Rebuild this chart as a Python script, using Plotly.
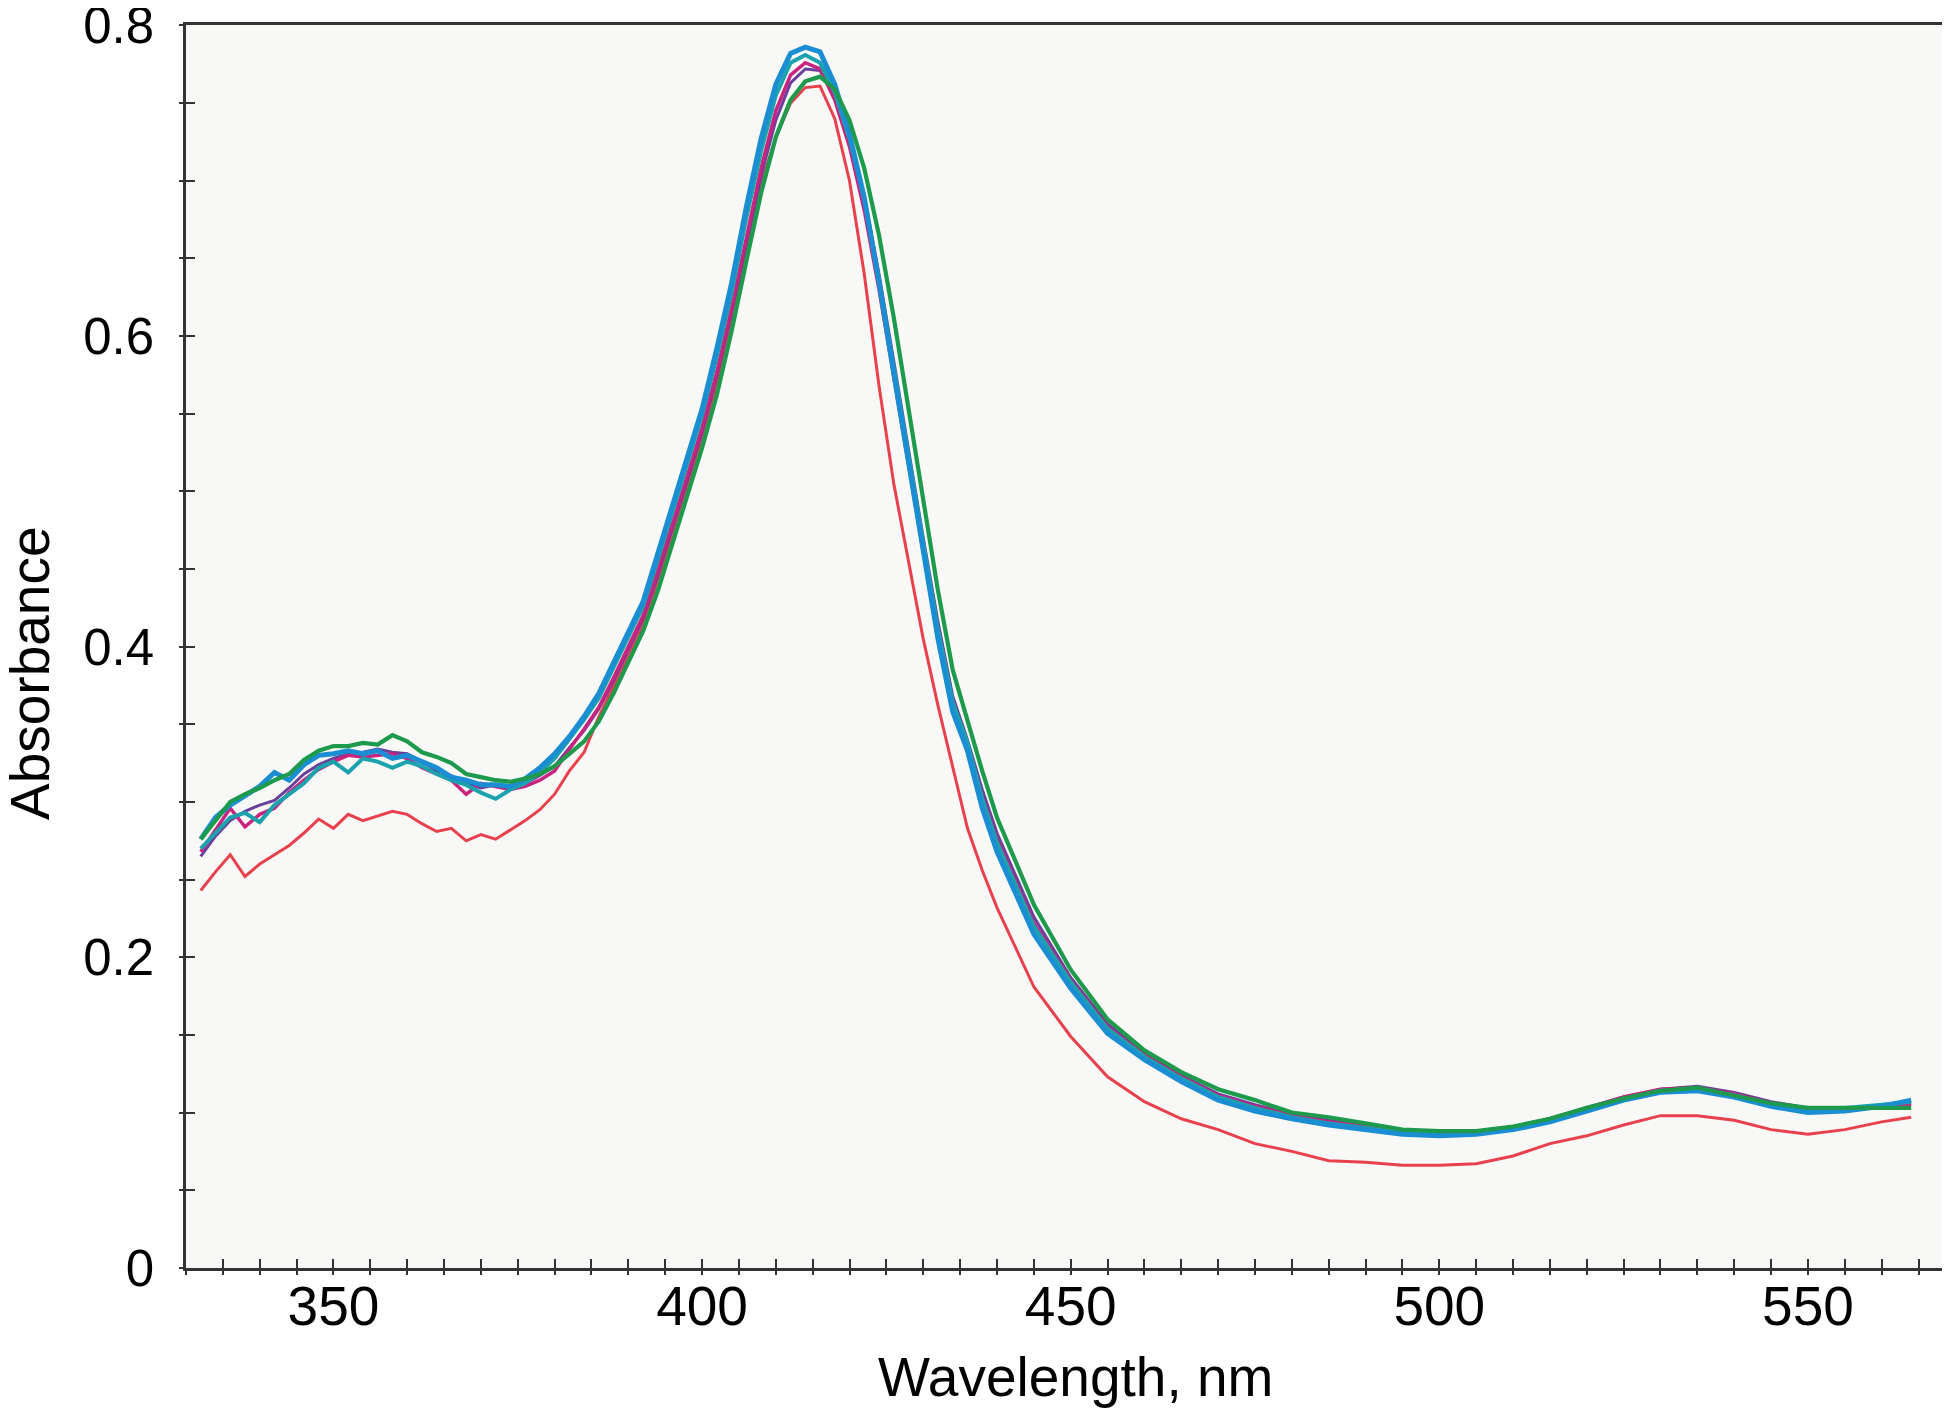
import plotly.graph_objects as go

wavelength = [332, 334, 336, 338, 340, 342, 344, 346, 348, 350, 352, 354, 356, 358, 360,
              362, 364, 366, 368, 370, 372, 374, 376, 378, 380,
              382, 384, 386, 388, 390, 392, 394, 396, 398, 400, 402, 404, 406, 408, 410,
              412, 414, 416, 418, 420, 422, 424, 426, 428, 430, 432, 434, 436, 438, 440,
              445, 450, 455, 460, 465, 470, 475, 480, 485, 490, 495, 500, 505, 510, 515,
              520, 525, 530, 535, 540, 545, 550, 555, 560, 564]

red = [0.243, 0.255, 0.266, 0.252, 0.260, 0.266, 0.272, 0.280, 0.289, 0.283, 0.292, 0.288, 0.291, 0.294, 0.292,
       0.286, 0.281, 0.283, 0.275, 0.279, 0.276, 0.282, 0.288, 0.295, 0.305,
       0.320, 0.332, 0.355, 0.374, 0.394, 0.414, 0.442, 0.471, 0.502, 0.533, 0.570, 0.611, 0.655, 0.698, 0.728,
       0.750, 0.760, 0.761, 0.740, 0.700, 0.640, 0.568, 0.505, 0.455, 0.405, 0.362, 0.322, 0.283, 0.256, 0.232,
       0.181, 0.149, 0.123, 0.107, 0.096, 0.089, 0.080, 0.075, 0.069, 0.068, 0.066, 0.066, 0.067, 0.072, 0.080,
       0.085, 0.092, 0.098, 0.098, 0.095, 0.089, 0.086, 0.089, 0.094, 0.097]

purple = [0.265, 0.278, 0.288, 0.294, 0.298, 0.301, 0.309, 0.318, 0.324, 0.328, 0.331, 0.332, 0.334, 0.332, 0.331,
          0.326, 0.320, 0.317, 0.312, 0.309, 0.311, 0.310, 0.312, 0.317, 0.323,
          0.335, 0.346, 0.360, 0.378, 0.398, 0.418, 0.446, 0.476, 0.507, 0.538, 0.574, 0.615, 0.660, 0.703, 0.739,
          0.763, 0.772, 0.771, 0.755, 0.728, 0.690, 0.640, 0.584, 0.526, 0.470, 0.416, 0.368, 0.340, 0.308, 0.280,
          0.226, 0.187, 0.157, 0.138, 0.124, 0.112, 0.105, 0.099, 0.095, 0.091, 0.088, 0.087, 0.088, 0.091, 0.096,
          0.103, 0.110, 0.115, 0.117, 0.113, 0.107, 0.103, 0.103, 0.104, 0.105]

magenta = [0.268, 0.282, 0.296, 0.284, 0.292, 0.296, 0.306, 0.314, 0.321, 0.326, 0.330, 0.329, 0.330, 0.331, 0.328,
           0.322, 0.318, 0.314, 0.305, 0.312, 0.310, 0.308, 0.310, 0.314, 0.320,
           0.334, 0.347, 0.361, 0.380, 0.400, 0.420, 0.449, 0.479, 0.510, 0.541, 0.577, 0.618, 0.664, 0.708, 0.745,
           0.768, 0.776, 0.772, 0.752, 0.722, 0.681, 0.630, 0.574, 0.516, 0.461, 0.405, 0.360, 0.335, 0.303, 0.276,
           0.222, 0.185, 0.155, 0.137, 0.123, 0.111, 0.104, 0.098, 0.094, 0.091, 0.088, 0.087, 0.088, 0.090, 0.096,
           0.103, 0.110, 0.115, 0.116, 0.112, 0.106, 0.102, 0.102, 0.104, 0.105]

teal = [0.270, 0.280, 0.290, 0.293, 0.287, 0.298, 0.305, 0.312, 0.322, 0.326, 0.319, 0.328, 0.326, 0.322, 0.326,
        0.323, 0.318, 0.314, 0.311, 0.306, 0.302, 0.308, 0.312, 0.319, 0.328,
        0.340, 0.353, 0.367, 0.387, 0.407, 0.426, 0.456, 0.487, 0.518, 0.549, 0.587, 0.628, 0.676, 0.719, 0.755,
        0.776, 0.781, 0.776, 0.757, 0.727, 0.688, 0.636, 0.580, 0.522, 0.467, 0.411, 0.364, 0.338, 0.302, 0.274,
        0.220, 0.184, 0.154, 0.136, 0.122, 0.110, 0.103, 0.097, 0.093, 0.090, 0.087, 0.086, 0.087, 0.090, 0.095,
        0.102, 0.109, 0.114, 0.115, 0.111, 0.105, 0.102, 0.103, 0.105, 0.107]

blue = [0.276, 0.290, 0.298, 0.304, 0.310, 0.319, 0.314, 0.324, 0.330, 0.331, 0.333, 0.331, 0.333, 0.328, 0.330,
        0.326, 0.322, 0.316, 0.314, 0.311, 0.311, 0.310, 0.315, 0.322, 0.331,
        0.342, 0.355, 0.370, 0.390, 0.410, 0.429, 0.460, 0.491, 0.522, 0.553, 0.592, 0.634, 0.683, 0.727, 0.762,
        0.782, 0.786, 0.783, 0.762, 0.730, 0.689, 0.635, 0.576, 0.518, 0.463, 0.405, 0.358, 0.333, 0.296, 0.268,
        0.215, 0.180, 0.151, 0.134, 0.120, 0.108, 0.101, 0.096, 0.092, 0.089, 0.086, 0.085, 0.086, 0.089, 0.094,
        0.101, 0.108, 0.113, 0.114, 0.110, 0.104, 0.100, 0.101, 0.104, 0.108]

green = [0.276, 0.288, 0.300, 0.305, 0.309, 0.314, 0.318, 0.327, 0.333, 0.336, 0.336, 0.338, 0.337, 0.343, 0.339,
         0.332, 0.329, 0.325, 0.318, 0.316, 0.314, 0.313, 0.315, 0.318, 0.323,
         0.331, 0.339, 0.352, 0.370, 0.390, 0.410, 0.436, 0.466, 0.497, 0.528, 0.562, 0.603, 0.648, 0.692, 0.728,
         0.752, 0.764, 0.767, 0.759, 0.739, 0.708, 0.665, 0.612, 0.552, 0.492, 0.436, 0.385, 0.352, 0.320, 0.290,
         0.234, 0.192, 0.160, 0.140, 0.126, 0.115, 0.108, 0.100, 0.097, 0.093, 0.089, 0.088, 0.088, 0.091, 0.096,
         0.103, 0.109, 0.114, 0.116, 0.111, 0.106, 0.103, 0.103, 0.103, 0.103]

x_ticks = [350, 400, 450, 500, 550]
y_ticks = [0, 0.2, 0.4, 0.6, 0.8]
y_tick_text = ["0", "0.2", "0.4", "0.6", "0.8"]

series = [
    ("red", red, "#e8414e", 3.0),
    ("purple", purple, "#6b3f9c", 3.0),
    ("magenta", magenta, "#c8247f", 3.5),
    ("teal", teal, "#1aa3ad", 4.0),
    ("blue", blue, "#1b8ed3", 5.0),
    ("green", green, "#1e9a4c", 4.2),
]

FONT = "Liberation Sans, Arial, Helvetica, sans-serif"
TICKC = "#333333"

fig = go.Figure()
for name, vals, color, w in series:
    fig.add_trace(go.Scatter(x=wavelength, y=vals, mode="lines", name=name,
                             line=dict(color=color, width=w, shape="linear")))

axis_line = dict(showline=True, linecolor=TICKC, linewidth=2.5, mirror=True,
                 showgrid=False, zeroline=False, automargin=False)

XR = [330, 569]
YR = [-0.0001, 0.8003]

fig.update_layout(
    width=1950, height=1414,
    margin=dict(l=178, r=10, t=17, b=154, autoexpand=False),
    paper_bgcolor="white",
    plot_bgcolor="#f8f8f6",
    showlegend=False,
    font=dict(family=FONT, size=55, color="black"),
    xaxis=dict(range=XR, tickvals=x_ticks, ticks="outside", ticklen=4,
               tickwidth=2, tickcolor=TICKC,
               minor=dict(dtick=5, tick0=330, ticks="outside", ticklen=4, tickwidth=2, tickcolor=TICKC),
               tickfont=dict(family=FONT, size=55), ticklabelstandoff=-16, **axis_line),
    yaxis=dict(range=YR, tickvals=y_ticks, ticktext=y_tick_text,
               ticks="outside", ticklen=4, tickwidth=2, tickcolor=TICKC,
               minor=dict(dtick=0.05, tick0=0, ticks="outside", ticklen=4, tickwidth=2, tickcolor=TICKC),
               tickfont=dict(family=FONT, size=51), ticklabelstandoff=15,
               ticklabeloverflow="allow", **axis_line),
    xaxis2=dict(range=XR, overlaying="x", anchor="y", side="bottom", automargin=False,
                showticklabels=False, ticks="inside", ticklen=9, tickwidth=2, tickcolor=TICKC,
                tick0=330, dtick=5, showgrid=False, zeroline=False, showline=False),
    yaxis2=dict(range=YR, overlaying="y", anchor="x", side="left", automargin=False,
                showticklabels=False, ticks="inside", ticklen=9, tickwidth=2, tickcolor=TICKC,
                tick0=0, dtick=0.05, showgrid=False, zeroline=False, showline=False),
)

# invisible trace to activate the overlay axes carrying the inward tick marks
fig.add_trace(go.Scatter(x=[330], y=[0], xaxis="x2", yaxis="y2", mode="markers",
                         marker=dict(opacity=0), hoverinfo="skip", showlegend=False))

fig.add_annotation(text="Wavelength, nm", xref="paper", yref="paper",
                   x=0.505, y=-0.0874, xanchor="center", yanchor="middle",
                   showarrow=False, font=dict(family=FONT, size=55, color="black"))
fig.add_annotation(text="Absorbance", xref="paper", yref="paper",
                   x=-0.0885, y=0.4787, xanchor="center", yanchor="middle", textangle=-90,
                   showarrow=False, font=dict(family=FONT, size=55, color="black"))

fig.write_html("out.html")
